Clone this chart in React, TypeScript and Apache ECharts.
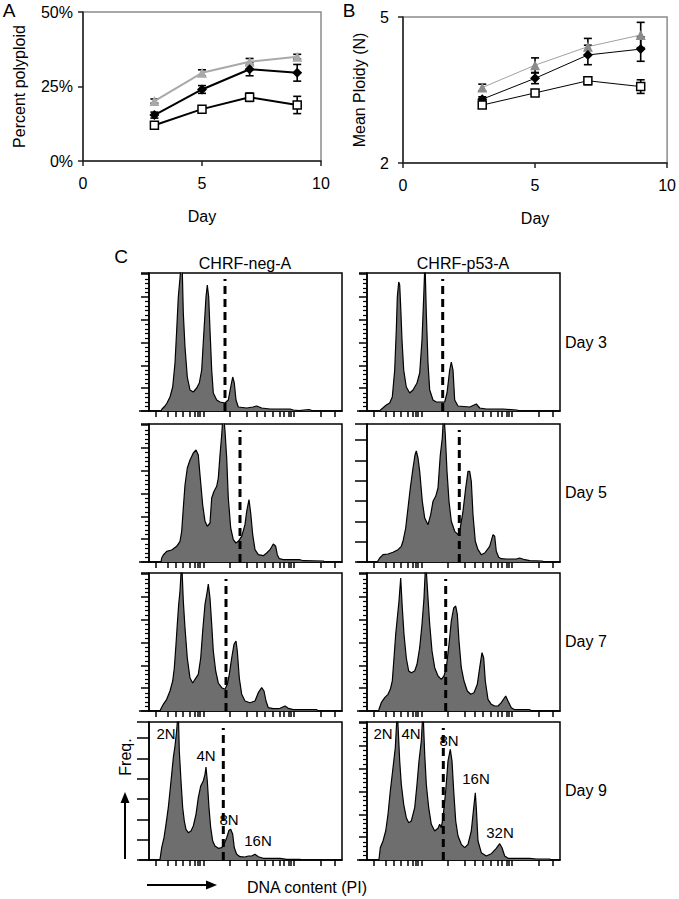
import React, { useEffect, useRef } from "react";
import * as echarts from "echarts";

const FONT = "'Liberation Sans', Arial, Helvetica, sans-serif";

// ---------- Panels A & B ----------
const days = [3, 5, 7, 9];

// Percent polyploid (%)
const pctGray = [20.1, 29.6, 33.3, 35.0];
const pctGrayErr = [0.7, 1.0, 1.1, 0.8];
const pctBlack = [15.4, 24.0, 30.8, 29.6];
const pctBlackErr = [1.0, 1.3, 2.2, 2.8];
const pctSquare = [12.0, 17.4, 21.4, 18.8];
const pctSquareErr = [0.8, 0.5, 1.4, 2.9];

// Mean ploidy (N)
const ployGray = [3.55, 4.01, 4.39, 4.63];
const ployGrayErr = [0.07, 0.15, 0.17, 0.26];
const ployBlack = [3.31, 3.74, 4.22, 4.34];
const ployBlackErr = [0.05, 0.11, 0.2, 0.25];
const ploySquare = [3.19, 3.44, 3.69, 3.57];
const ploySquareErr = [0.04, 0.03, 0.08, 0.14];

// ---------- Panel C: DNA histograms [channel, events] ----------
const histTicks = [7, 18.7, 27, 33.7, 40.3, 45.3, 48.7, 51, 54.3, 81, 97.7, 107.7, 116, 123.7, 130.3, 134.3, 139.3, 142, 144.3, 171.7, 186];

const negDay3 = [[0,0],[12,0],[13,2],[16,5],[18,8],[21,14],[23.7,24],[26,48],[27.7,81],[29.3,114],[31,133],[32.3,150],[33.3,140],[34.3,98],[36,64],[38.3,34],[41,21],[44.3,19],[47.7,23],[50.3,28],[52.7,41],[55,81],[57,114],[58.3,126],[59.7,114],[61,81],[62.7,41],[64.3,18],[67.7,11],[71,9],[76,8],[79.3,11],[81.7,24],[83.7,34],[85.3,28],[87,11],[89.3,4],[97.7,3],[104,4],[107.7,5],[112.7,3],[121,2],[141,2],[144.3,1],[150,0.5],[160,1.5],[163,0.5],[166,0],[193,0]];
const p53Day3 = [[0,0],[12.7,0],[13.5,1],[19.3,6],[22.7,8],[25.3,14],[27.7,41],[29.3,81],[30.3,114],[31.7,129],[32.7,126],[33.7,104],[35,71],[36.7,41],[39.3,24],[42.7,18],[46,21],[50,28],[52.7,38],[55,71],[56.7,114],[58,150],[59.3,98],[61,48],[62.7,21],[66,11],[69.3,9],[74.3,9],[77.7,9],[80,18],[82.7,41],[84.3,49],[86,41],[87.7,11],[91,5],[102.7,4],[109.3,7],[112.7,3],[119.3,2],[136,2],[149.3,1],[155,0],[193,0]];
const negDay5 = [[0,0],[12,0],[12.7,4],[14.3,7],[17.7,10.7],[22.7,12],[27.7,15.7],[31,20.7],[32.7,30.7],[34.3,54],[36,77],[38.3,94],[41,102],[44.3,109],[47,112],[49.3,107],[51,87],[53.7,57],[56,40.7],[58.3,35.7],[61,39],[62.7,64],[65,70.7],[67.7,75.7],[69.3,84],[71,107],[72.7,127],[74.3,150],[76,131],[77.7,104],[79.3,64],[81.7,34],[84.3,22.3],[87,19],[89.3,20.7],[92.7,25.7],[96,37.3],[97.7,50.7],[100,62.3],[101.7,49],[103.7,27.3],[106,12.3],[109.3,7.3],[114.3,6.3],[117.7,9],[121,12.3],[124.3,18],[126.7,15.7],[128.3,7.3],[130.3,3.3],[134.3,2.3],[151,2.3],[154.3,1.3],[174.3,1],[176,0],[193,0]];
const p53Day5 = [[0,0],[10.5,0],[11,1.3],[12.7,4],[16,7.3],[21,8],[26,9.7],[31,12.3],[34.3,15.7],[36,20.7],[38.7,34],[41,54],[43.3,74],[46,94],[48,107],[49.3,111],[51,104],[52.7,90.7],[55.3,60.7],[57.7,44],[61,37.3],[63.7,47.3],[66,60.7],[68.7,65.7],[71,74],[73.3,107],[75.3,124],[76.7,150],[78.3,127],[80,90.7],[82,60.7],[84.3,40.7],[87.7,30.7],[91,27.3],[92.7,30.7],[96,50.7],[98.7,74],[101,90.7],[102.7,90.7],[104.3,80.7],[106,47.3],[108.3,20.7],[111,12.3],[114.3,7.3],[117.7,9],[122.7,15.7],[126,27.3],[127.7,25.7],[129.3,10.7],[131.7,4.7],[134.3,3.3],[139.3,3],[149.3,3],[152.7,4],[157.7,2.3],[162.7,1.3],[175,1],[178,0],[193,0]];
const negDay7 = [[0,0],[11,0],[11.7,1.7],[14.3,6.7],[17.7,11.7],[21,20],[23.7,30],[25.3,43],[27,66.7],[28.3,86.7],[29.7,106.7],[31,120],[32.7,150],[34.3,110],[36,83],[38.3,53],[41,33],[43.7,28],[46,31.7],[49.3,36.7],[51.7,53],[53.7,80],[56,106.7],[58.3,120],[59.3,127],[61,113],[62.7,86.7],[64.3,60],[66.7,40],[69.3,28],[72.7,23.3],[76,21.7],[78.3,26.7],[80.3,36.7],[82.7,53],[85,66.7],[87,70],[88.3,60],[90.3,33],[92.7,16.7],[96,10],[101,8.3],[106,10],[109.3,18.3],[112.7,23.3],[115,20],[117,10],[119.3,3.3],[124.3,2.3],[131,2.7],[136,5],[139.3,2.7],[144.3,1.3],[167.7,1.3],[169,0],[193,0]];
const p53Day7 = [[0,0],[11.5,0],[12,1.7],[14.3,8.3],[17.7,13.3],[21,16.7],[23.3,21.7],[25.3,30],[27,53],[28.7,76.7],[30.3,93],[32,110],[33.7,133],[35.3,103],[37,76.7],[39.3,53],[41.7,40],[44.3,38.3],[47.7,40],[50,46.7],[52.7,63.3],[55,86.7],[57,113],[58.7,150],[61,113],[62.7,86.7],[65,60],[67.7,43.3],[71,35],[74.3,31.7],[77,35],[79.3,43.3],[82,66.7],[84.3,90],[86.7,103],[88.7,105],[90.3,96.7],[92,70],[94.3,43.3],[97,30],[100.3,20],[103.7,16.7],[107,18.3],[110.3,26.7],[112.7,43.3],[115,58.3],[116.7,53],[118.3,30],[121,11.7],[124.3,6.7],[127.7,5],[131,5],[134.3,8.3],[138.7,15],[141,10],[144.3,3.3],[147.7,1.3],[162.7,1.3],[165,0],[193,0]];
const negDay9 = [[0,0],[10.5,0],[11,0.7],[12.7,12.3],[15,22.3],[17,35.7],[19.3,52.3],[21,69],[22.7,85.7],[24.3,102.3],[26,114],[27.7,130],[29.3,150],[30.3,109],[32,79],[33.7,52.3],[35.3,39],[37,30.7],[39.3,27.3],[42,29],[44.3,34],[47,45.7],[49.3,62.3],[51.7,74],[54.3,79],[56,85.7],[57,93],[58.3,79],[60,52.3],[61.7,32.3],[63.7,19],[66,14],[69.3,11.7],[72.7,12.3],[75,15.7],[77.7,22.3],[80,29.7],[81.7,30.7],[83.7,25.7],[85.3,12.3],[87.7,5.7],[91,3.3],[96,3],[99.3,4],[102.7,4],[106,5.7],[109.3,3.3],[114.3,1.7],[131,1.7],[137.7,0.7],[151,0.7],[152,0],[193,0]];
const p53Day9 = [[0,0],[11.5,0],[12,0.7],[13.3,12.3],[16,19],[18.7,29],[21,45.7],[23.3,69],[26,92.3],[28.3,112.3],[30.3,150],[32.7,99],[34.3,75.7],[36.7,55.7],[39.3,42.3],[41.7,37.3],[44.3,39],[47.7,52.3],[50,75.7],[52,99],[54.3,119],[56,150],[57.7,105.7],[59.3,75.7],[61.7,52.3],[64.3,35.7],[67.7,29],[71,31.7],[72.7,35.7],[74.3,32.3],[76,42.3],[78.7,69],[81,99],[83.3,110.7],[85,99],[86.7,69],[88.7,39],[91,24],[94.3,15.7],[97.7,12.3],[101,15.7],[104.3,29],[106.7,52.3],[108.3,67.3],[109.3,52.3],[111,19],[114.3,7.3],[119.3,4],[124.3,6.3],[129.3,11.7],[132.7,16.3],[135,12.3],[137.7,4],[141,1.7],[162.7,1.7],[169.3,1],[182.7,1],[184,0],[193,0]];

const histograms = [negDay3, p53Day3, negDay5, p53Day5, negDay7, p53Day7, negDay9, p53Day9];
const gates = [76, 75.7, 91, 92.3, 77, 78.7, 74.3, 76.3];
const gateTop = 132;
const denseTicks = [true, true, true, false, true, true, false, true];
const columnTitles = ["CHRF-neg-A", "CHRF-p53-A"];
const rowLabels = ["Day 3", "Day 5", "Day 7", "Day 9"];

// layout
const rowTops = [273, 424, 573, 722];
const colLefts = [149, 367];
const HW = 193;
const HH = 138;

function errSeries(idx: number, vals: number[], errs: number[]) {
  return {
    type: "custom",
    xAxisIndex: idx,
    yAxisIndex: idx,
    silent: true,
    z: 3,
    data: days.map((d, i) => [d, vals[i], errs[i]]),
    renderItem: (_p: any, api: any) => {
      const x = api.value(0), y = api.value(1), e = api.value(2);
      const a = api.coord([x, y + e]);
      const b = api.coord([x, y - e]);
      const cw = 4;
      const st = { stroke: "#000", lineWidth: 1.6 };
      return {
        type: "group",
        children: [
          { type: "line", shape: { x1: a[0], y1: a[1], x2: b[0], y2: b[1] }, style: st },
          { type: "line", shape: { x1: a[0] - cw, y1: a[1], x2: a[0] + cw, y2: a[1] }, style: st },
          { type: "line", shape: { x1: b[0] - cw, y1: b[1], x2: b[0] + cw, y2: b[1] }, style: st },
        ],
      };
    },
  };
}

function lineSeries(idx: number, name: string, vals: number[], kind: string, thin: boolean) {
  const w = thin ? 1 : 2;
  const base: any = {
    type: "line",
    name,
    xAxisIndex: idx,
    yAxisIndex: idx,
    data: days.map((d, i) => [d, vals[i]]),
    z: 4,
  };
  if (kind === "tri") {
    base.symbol = "triangle";
    base.symbolSize = 10;
    base.itemStyle = { color: thin ? "#8a8a8a" : "#a9a9a9" };
    base.lineStyle = { color: thin ? "#a0a0a0" : "#a9a9a9", width: w };
  } else if (kind === "dia") {
    base.symbol = "diamond";
    base.symbolSize = 10;
    base.itemStyle = { color: "#000" };
    base.lineStyle = { color: "#000", width: w };
  } else {
    base.symbol = "rect";
    base.symbolSize = 8;
    base.itemStyle = { color: "#fff", borderColor: "#000", borderWidth: 1.5 };
    base.lineStyle = { color: "#000", width: w };
  }
  return base;
}

export default function App() {
  const ref = useRef<HTMLDivElement>(null);
  useEffect(() => {
    if (!ref.current) return;
    const chart = echarts.init(ref.current, undefined, { renderer: "svg" });

    const grids: any[] = [
      { left: 83, top: 12, width: 238, height: 149, show: true, borderColor: "#8c8c8c", borderWidth: 1.5 },
      { left: 403, top: 17, width: 268, height: 146, show: true, borderColor: "#8c8c8c", borderWidth: 1.5 },
    ];
    const xAxes: any[] = [];
    const yAxes: any[] = [];
    const series: any[] = [];
    const labelStyle = { color: "#000", fontSize: 16, fontFamily: FONT };
    const axLine = { show: true, lineStyle: { color: "#222", width: 1.5 } };

    // Panel A axes
    xAxes.push({
      gridIndex: 0, type: "value", min: 0, max: 10, interval: 5,
      axisLine: axLine, axisTick: { show: true, inside: false, length: 5, lineStyle: { color: "#222", width: 1.5 } },
      axisLabel: { ...labelStyle, margin: 14 }, splitLine: { show: false },
      name: "Day", nameLocation: "middle", nameGap: 47, nameTextStyle: labelStyle,
    });
    yAxes.push({
      gridIndex: 0, type: "value", min: 0, max: 50, interval: 25,
      axisLine: axLine, axisTick: { show: true, inside: false, length: 5, lineStyle: { color: "#222", width: 1.5 } },
      axisLabel: { ...labelStyle, margin: 10, formatter: (v: number) => v + "%" }, splitLine: { show: false },
      name: "Percent polyploid", nameLocation: "middle", nameGap: 56, nameRotate: 90, nameTextStyle: labelStyle,
    });
    // Panel B axes
    xAxes.push({
      gridIndex: 1, type: "value", min: 0, max: 10, interval: 5,
      axisLine: axLine, axisTick: { show: true, inside: false, length: 5, lineStyle: { color: "#222", width: 1.5 } },
      axisLabel: { ...labelStyle, margin: 14 }, splitLine: { show: false },
      name: "Day", nameLocation: "middle", nameGap: 47, nameTextStyle: labelStyle,
    });
    yAxes.push({
      gridIndex: 1, type: "value", min: 2, max: 5, interval: 3,
      axisLine: axLine, axisTick: { show: true, inside: false, length: 5, lineStyle: { color: "#222", width: 1.5 } },
      axisLabel: { ...labelStyle, margin: 14 }, splitLine: { show: false },
      name: "Mean Ploidy (N)", nameLocation: "middle", nameGap: 36, nameRotate: 90, nameTextStyle: labelStyle,
    });

    series.push(errSeries(0, pctGray, pctGrayErr), errSeries(0, pctBlack, pctBlackErr), errSeries(0, pctSquare, pctSquareErr));
    series.push(lineSeries(0, "gray", pctGray, "tri", false), lineSeries(0, "black", pctBlack, "dia", false), lineSeries(0, "open", pctSquare, "sq", false));
    series.push(errSeries(1, ployGray, ployGrayErr), errSeries(1, ployBlack, ployBlackErr), errSeries(1, ploySquare, ploySquareErr));
    series.push(lineSeries(1, "gray", ployGray, "tri", true), lineSeries(1, "black", ployBlack, "dia", true), lineSeries(1, "open", ploySquare, "sq", true));

    const graphic: any[] = [];
    const txt = (x: number, y: number, text: string, size: number, align = "center", rot = 0) => ({
      type: "text", x, y, rotation: rot,
      style: { text, fontSize: size, fontFamily: FONT, fill: "#000", align, verticalAlign: "middle" },
    });

    histograms.forEach((h, k) => {
      const r = Math.floor(k / 2), c = k % 2;
      const gi = 2 + k;
      const left = colLefts[c], top = rowTops[r];
      grids.push({ left, top, width: HW, height: HH, show: true, borderColor: "#000", borderWidth: 1.5 });
      xAxes.push({
        gridIndex: gi, type: "value", min: 0, max: HW,
        axisLine: { show: true, lineStyle: { color: "#000", width: 1.5 } },
        axisTick: { show: true, inside: false, length: 6, customValues: histTicks, lineStyle: { color: "#000", width: 1.5 } },
        axisLabel: { show: false }, splitLine: { show: false },
      });
      const dense = denseTicks[k];
      yAxes.push({
        gridIndex: gi, type: "value", min: 0, max: HH,
        interval: dense ? 22.8 : 20.3,
        axisLine: { show: true, lineStyle: { color: "#000", width: 1.5 } },
        axisTick: { show: true, inside: false, length: dense ? 8 : 12, lineStyle: { color: "#000", width: 1.5 } },
        minorTick: { show: dense, splitNumber: 5, length: 4, lineStyle: { color: "#000", width: 1.2 } },
        axisLabel: { show: false }, splitLine: { show: false }, minorSplitLine: { show: false },
      });
      series.push({
        type: "line", xAxisIndex: gi, yAxisIndex: gi, data: h, symbol: "none", clip: true,
        lineStyle: { color: "#000", width: 1.2 }, areaStyle: { color: "#6e6e6e", opacity: 1 }, z: 2,
      });
      series.push({
        type: "line", xAxisIndex: gi, yAxisIndex: gi, data: [[gates[k], 0], [gates[k], gateTop]], symbol: "none",
        lineStyle: { color: "#000", width: 3, type: [8, 5] }, z: 5,
      });
      // x-axis line extending left of the box
      graphic.push({ type: "line", shape: { x1: left - 10, y1: top + HH, x2: left, y2: top + HH }, style: { stroke: "#000", lineWidth: 1.5 } });
    });

    // texts
    graphic.push(txt(9, 10, "A", 19));
    graphic.push(txt(349, 10, "B", 19));
    graphic.push(txt(121, 256, "C", 19));
    graphic.push(txt(245, 263, columnTitles[0], 16));
    graphic.push(txt(463, 263, columnTitles[1], 16));
    const dayY = [342, 492, 641, 790];
    rowLabels.forEach((l, i) => graphic.push(txt(565, dayY[i], l, 16, "left")));
    // peak labels (day 9)
    graphic.push(txt(166, 733, "2N", 15), txt(206, 755, "4N", 15), txt(229, 819, "8N", 15), txt(258, 840, "16N", 15));
    graphic.push(txt(383, 733, "2N", 15), txt(411, 733, "4N", 15), txt(449, 740, "8N", 15), txt(476, 778, "16N", 15), txt(500, 832, "32N", 15));
    // axis hints
    graphic.push(txt(125, 757, "Freq.", 16, "center", Math.PI / 2));
    graphic.push(txt(307, 887, "DNA content (PI)", 16));
    graphic.push({ type: "line", shape: { x1: 125, y1: 859, x2: 125, y2: 800 }, style: { stroke: "#000", lineWidth: 2 } });
    graphic.push({ type: "polygon", shape: { points: [[125, 792], [120.5, 803], [129.5, 803]] }, style: { fill: "#000" } });
    graphic.push({ type: "line", shape: { x1: 147, y1: 885, x2: 208, y2: 885 }, style: { stroke: "#000", lineWidth: 2 } });
    graphic.push({ type: "polygon", shape: { points: [[217, 885], [206, 880.5], [206, 889.5]] }, style: { fill: "#000" } });

    chart.setOption({
      animation: false,
      backgroundColor: "#fff",
      textStyle: { fontFamily: FONT },
      grid: grids,
      xAxis: xAxes,
      yAxis: yAxes,
      series,
      graphic,
    });
    return () => chart.dispose();
  }, []);
  return <div ref={ref} style={{ position: "absolute", left: 0, top: 0, width: 679, height: 899 }} />;
}
